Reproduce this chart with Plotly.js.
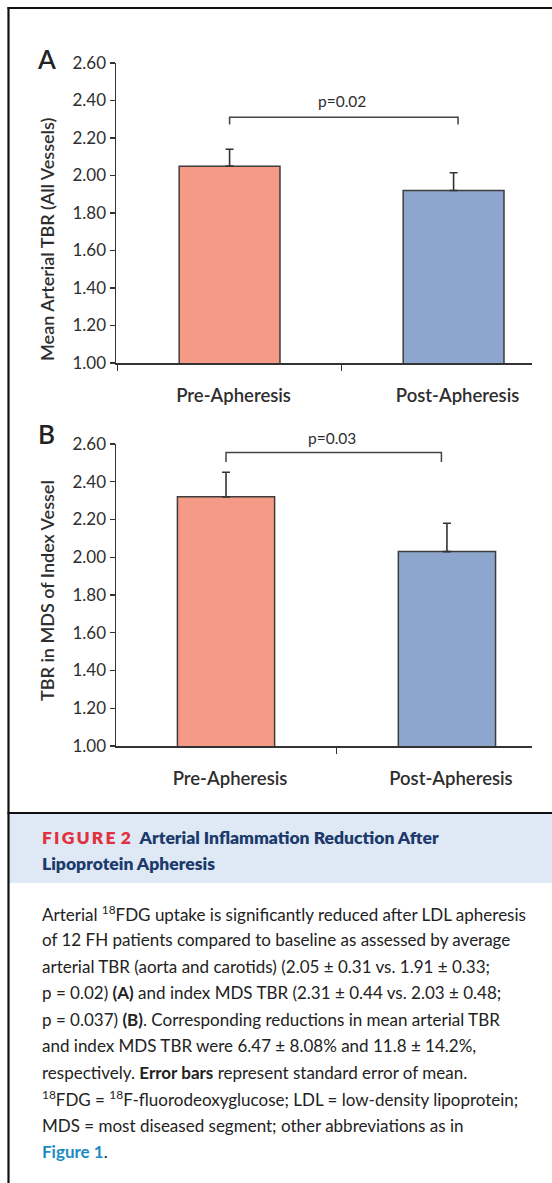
<!DOCTYPE html>
<html>
<head>
<meta charset="utf-8">
<script src="https://cdn.plot.ly/plotly-3.0.1.min.js"></script>
<style>html,body{margin:0;padding:0;background:#fff;}#chart{width:552px;height:1183px;}</style>
</head>
<body>
<div id="chart"></div>
<script>
// ---- data ----
const categories = ["Pre-Apheresis", "Post-Apheresis"];
const meanTBR_A = [2.05, 1.92];
const semA = [0.09, 0.095];
const mdsTBR_B = [2.32, 2.03];
const semB = [0.13, 0.15];
const yTickVals = [1.0, 1.2, 1.4, 1.6, 1.8, 2.0, 2.2, 2.4, 2.6];
const pLabelA = "p=0.02";
const pLabelB = "p=0.03";
const barColors = ["#f59a86", "#8ca6cd"];

const W = 552, H = 1183;
const px = x => x / W;
const py = y => 1 - y / H;
const FONT = "Lato, 'Open Sans', sans-serif";
const TXT = "#2e2e2e";

function barTrace(vals, sem, xa, ya, width) {
  return {
    type: "bar", x: categories, y: vals, xaxis: xa, yaxis: ya,
    width: width,
    marker: { color: barColors, line: { color: "#3d3d3d", width: 1.5 } },
    error_y: { type: "data", symmetric: false, array: sem, arrayminus: [0, 0],
               color: "#333", thickness: 1.6, width: 4 },
    hoverinfo: "none"
  };
}

const data = [
  barTrace(meanTBR_A, semA, "x", "y", 0.45),
  barTrace(mdsTBR_B, semB, "x2", "y2", 0.44)
];

function yAxis(dom, anchor) {
  return {
    domain: dom, anchor: anchor, range: [1.0, 2.6], tickvals: yTickVals,
    tickformat: ".2f", showgrid: false, zeroline: false, showline: true,
    linecolor: "#333", linewidth: 1.5, ticks: "outside", ticklen: 5, tickwidth: 1.2,
    tickcolor: "#333", tickfont: { family: FONT, size: 17, color: TXT }
  };
}
function xAxis(range, anchor) {
  return {
    domain: [px(116), px(532)], anchor: anchor, type: "category", range: range,
    showgrid: false, zeroline: false, showline: true, linecolor: "#333", linewidth: 1.5,
    ticks: "outside", tickson: "boundaries", ticklen: 6, tickwidth: 1.2, tickcolor: "#333",
    ticklabelstandoff: 15, ticklabelshift: 4,
    tickfont: { family: FONT, size: 18.5, color: TXT, weight: 600 }
  };
}

function bracket(xr, yr, x0, x1, yTop, yBot) {
  return { type: "path", xref: xr, yref: yr,
    path: `M ${x0},${yBot} L ${x0},${yTop} L ${x1},${yTop} L ${x1},${yBot}`,
    line: { color: "#444", width: 1.5 } };
}

const shapes = [
  // caption band
  { type: "rect", xref: "paper", yref: "paper", x0: px(9), x1: 1, y0: py(883), y1: py(814),
    fillcolor: "#dfe9f5", line: { width: 0 }, layer: "below" },
  // frame lines
  { type: "line", xref: "paper", yref: "paper", x0: px(7.5), x1: 1, y0: py(8), y1: py(8), line: { color: "#111", width: 2.2 } },
  { type: "line", xref: "paper", yref: "paper", x0: px(8.5), x1: px(8.5), y0: py(7), y1: 0, line: { color: "#111", width: 2.2 } },
  { type: "line", xref: "paper", yref: "paper", x0: px(7.5), x1: 1, y0: py(813), y1: py(813), line: { color: "#111", width: 2.2 } },
  bracket("x", "y", 0, 1.02, 2.31, 2.272),
  bracket("x2", "y2", 0, 0.975, 2.555, 2.505)
];

const capLines = [
  "Arterial <sup>18</sup>FDG uptake is significantly reduced after LDL apheresis",
  "of 12 FH patients compared to baseline as assessed by average",
  "arterial TBR (aorta and carotids) (2.05 ± 0.31 vs. 1.91 ± 0.33;",
  "p = 0.02) <b>(A)</b> and index MDS TBR (2.31 ± 0.44 vs. 2.03 ± 0.48;",
  "p = 0.037) <b>(B)</b>. Corresponding reductions in mean arterial TBR",
  "and index MDS TBR were 6.47 ± 8.08% and 11.8 ± 14.2%,",
  "respectively. <b>Error bars</b> represent standard error of mean.",
  "<sup>18</sup>FDG = <sup>18</sup>F-fluorodeoxyglucose; LDL = low-density lipoprotein;",
  "MDS = most diseased segment; other abbreviations as in",
  "<span style='color:#1b8ac4'><b>Figure 1</b></span>."
];

function ann(o) { return Object.assign({ showarrow: false, xanchor: "center", yanchor: "middle" }, o); }

const HS = "\u200A\u200A";
const figLabel = ["F", "I", "G", "U", "R", "E"].join(HS) + "\u00A0\u200A2";

const annotations = [
  ann({ xref: "paper", yref: "paper", x: px(46.5), y: py(59), text: "A",
    font: { family: FONT, size: 26, color: "#222", weight: 600 } }),
  ann({ xref: "paper", yref: "paper", x: px(46), y: py(434), text: "B",
    font: { family: FONT, size: 26, color: "#222", weight: 600 } }),
  ann({ xref: "paper", yref: "paper", x: px(47), y: py(240), text: "Mean Arterial TBR (All Vessels)",
    textangle: -90, font: { family: FONT, size: 18, color: TXT, weight: 600 } }),
  ann({ xref: "paper", yref: "paper", x: px(47), y: py(591), text: "TBR in MDS of Index Vessel",
    textangle: -90, font: { family: FONT, size: 18, color: TXT, weight: 600 } }),
  ann({ xref: "x", yref: "paper", x: 0.5, y: py(101), text: pLabelA,
    font: { family: FONT, size: 15.5, color: TXT } }),
  ann({ xref: "x2", yref: "paper", x: 0.48, y: py(438), text: pLabelB,
    font: { family: FONT, size: 15.5, color: TXT } }),
  ann({ xref: "paper", yref: "paper", x: px(40), y: py(837), xanchor: "left", align: "left",
    text: "<span style='color:#e3303e'>" + figLabel + "</span>\u2002Arterial Inflammation Reduction After",
    font: { family: FONT, size: 17.5, color: "#1c3a6b", weight: 800 } }),
  ann({ xref: "paper", yref: "paper", x: px(40), y: py(863), xanchor: "left", align: "left",
    text: "Lipoprotein Apheresis", font: { family: FONT, size: 17.5, color: "#1c3a6b", weight: 800 } })
];
capLines.forEach((t, i) => {
  annotations.push(ann({ xref: "paper", yref: "paper", x: px(40), y: py(913.3 + i * 26.5),
    xanchor: "left", align: "left", text: t,
    font: { family: FONT, size: 17, color: "#222" } }));
});

const layout = {
  width: W, height: H, margin: { l: 0, r: 0, t: 0, b: 0 },
  paper_bgcolor: "#fff", plot_bgcolor: "#fff", showlegend: false, bargap: 0,
  xaxis: xAxis([-0.507, 1.35], "y"),
  yaxis: yAxis([py(363), py(63)], "x"),
  xaxis2: xAxis([-0.498, 1.385], "y2"),
  yaxis2: yAxis([py(746), py(444)], "x2"),
  shapes: shapes, annotations: annotations
};

Plotly.newPlot("chart", data, layout, { displayModeBar: false, staticPlot: true });
</script>
</body>
</html>
